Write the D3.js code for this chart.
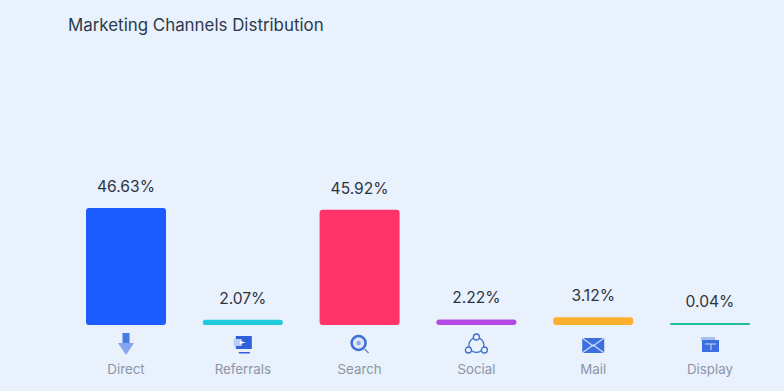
<!DOCTYPE html>
<html>
<head>
<meta charset="utf-8">
<script src="https://cdn.jsdelivr.net/npm/d3@7"></script>
<style>
html, body { margin: 0; padding: 0; background: #e9f1fc; }
svg { display: block; font-family: Inter, "Noto Sans", sans-serif; }
</style>
</head>
<body>
<div id="chart"></div>
<script>
const channels = ["Direct", "Referrals", "Search", "Social", "Mail", "Display"]
const shares = [46.63, 2.07, 45.92, 2.22, 3.12, 0.04]
const barColors = ["#1a5cff", "#22c8dc", "#ff3369", "#b44ae6", "#fdb02d", "#1fbf9c"]

const w = 784
const h = 391
const baseline = 325
const minBar = 2

const svg = d3.select("#chart").append("svg")
    .attr("width", w)
    .attr("height", h)

svg.append("text")
    .attr("x", 68)
    .attr("y", 31)
    .attr("font-size", 16.9)
    .attr("fill", "#2b3a4e")
    .text("Marketing Channels Distribution")

const xScale = d3.scaleBand()
    .domain(channels)
    .range([86, 750])
    .paddingInner(0.315)
    .paddingOuter(0)

const yScale = d3.scaleLinear()
    .domain([0, 46.63])
    .range([baseline, 208])

const barTop = v => Math.min(yScale(v), baseline - minBar)

const rows = channels.map((c, i) => ({ channel: c, share: shares[i], color: barColors[i] }))

svg.selectAll("rect.bar")
    .data(rows)
    .enter()
    .append("rect")
    .attr("class", "bar")
    .attr("x", d => xScale(d.channel))
    .attr("y", d => barTop(d.share))
    .attr("width", xScale.bandwidth())
    .attr("height", d => baseline - barTop(d.share))
    .attr("rx", d => Math.min(3, (baseline - barTop(d.share)) / 2))
    .attr("fill", d => d.color)

svg.selectAll("text.value")
    .data(rows)
    .enter()
    .append("text")
    .attr("class", "value")
    .attr("x", d => xScale(d.channel) + xScale.bandwidth() / 2)
    .attr("y", d => barTop(d.share) - 16)
    .attr("text-anchor", "middle")
    .attr("font-size", 15.6)
    .attr("fill", "#2c3442")
    .text(d => d.share.toFixed(2) + "%")

const xAxis = d3.axisBottom(xScale).tickSize(0).tickPadding(0)

const axisG = svg.append("g")
    .attr("transform", "translate(0,365)")
    .call(xAxis)

axisG.select(".domain").remove()
axisG.selectAll("text")
    .attr("font-family", "Inter, 'Noto Sans', sans-serif")
    .attr("font-size", 13.3)
    .attr("fill", "#8d95a5")

// small channel icons, drawn around the centre of each band
const icons = {
    Direct: g => {
        g.append("rect").attr("x", -3.5).attr("y", -12).attr("width", 7).attr("height", 12).attr("fill", "#4a78e4")
        g.append("path").attr("d", "M-8,-2 L8,-2 L0,10 Z").attr("fill", "#86a4f0")
    },
    Referrals: g => {
        g.append("rect").attr("x", -7).attr("y", -9).attr("width", 16).attr("height", 13).attr("fill", "#2f62da")
        g.append("rect").attr("x", -9).attr("y", -6).attr("width", 8).attr("height", 7).attr("fill", "#b9cdf6")
        g.append("path").attr("d", "M-3,-4 L3,-2.5 L-3,-1 Z").attr("fill", "#ffffff")
        g.append("rect").attr("x", -4).attr("y", 7).attr("width", 11).attr("height", 1.5).attr("fill", "#2f62da")
    },
    Search: g => {
        g.append("circle").attr("r", 7).attr("cy", -2).attr("cx", -1).attr("fill", "#dfe8fa").attr("stroke", "#3f6fd8").attr("stroke-width", 2.6)
        g.append("circle").attr("r", 2.2).attr("cy", -2).attr("cx", -1).attr("fill", "#8fa9e6")
        g.append("line").attr("x1", 5).attr("y1", 4).attr("x2", 9).attr("y2", 8).attr("stroke", "#7d8fb8").attr("stroke-width", 1.5)
    },
    Social: g => {
        g.append("circle").attr("r", 7.5).attr("fill", "none").attr("stroke", "#4a78d8").attr("stroke-width", 1.3)
        ;[[0, -8], [-8, 5], [8, 5]].forEach(p => {
            g.append("circle").attr("cx", p[0]).attr("cy", p[1]).attr("r", 3).attr("fill", "#e9f1fc").attr("stroke", "#3f6ad0").attr("stroke-width", 1.3)
        })
    },
    Mail: g => {
        g.append("rect").attr("x", -11).attr("y", -7).attr("width", 22).attr("height", 15).attr("fill", "#3c6fe2")
        g.append("path").attr("d", "M-11,-7 L0,1 L11,-7 M-11,8 L0,0 L11,8").attr("fill", "none").attr("stroke", "#cfdcf8").attr("stroke-width", 1.2)
    },
    Display: g => {
        g.append("rect").attr("x", -9).attr("y", -8).attr("width", 14).attr("height", 4).attr("fill", "#a9c0f2")
        g.append("rect").attr("x", -8).attr("y", -5).attr("width", 17).attr("height", 12).attr("fill", "#3c6fe2")
        g.append("path").attr("d", "M-5,-1 H6 M1,-1 V5").attr("stroke", "#cfdcf8").attr("stroke-width", 1)
    }
}

channels.forEach(c => {
    const g = svg.append("g")
        .attr("transform", `translate(${xScale(c) + xScale.bandwidth() / 2},345)`)
    icons[c](g)
})
</script>
</body>
</html>
